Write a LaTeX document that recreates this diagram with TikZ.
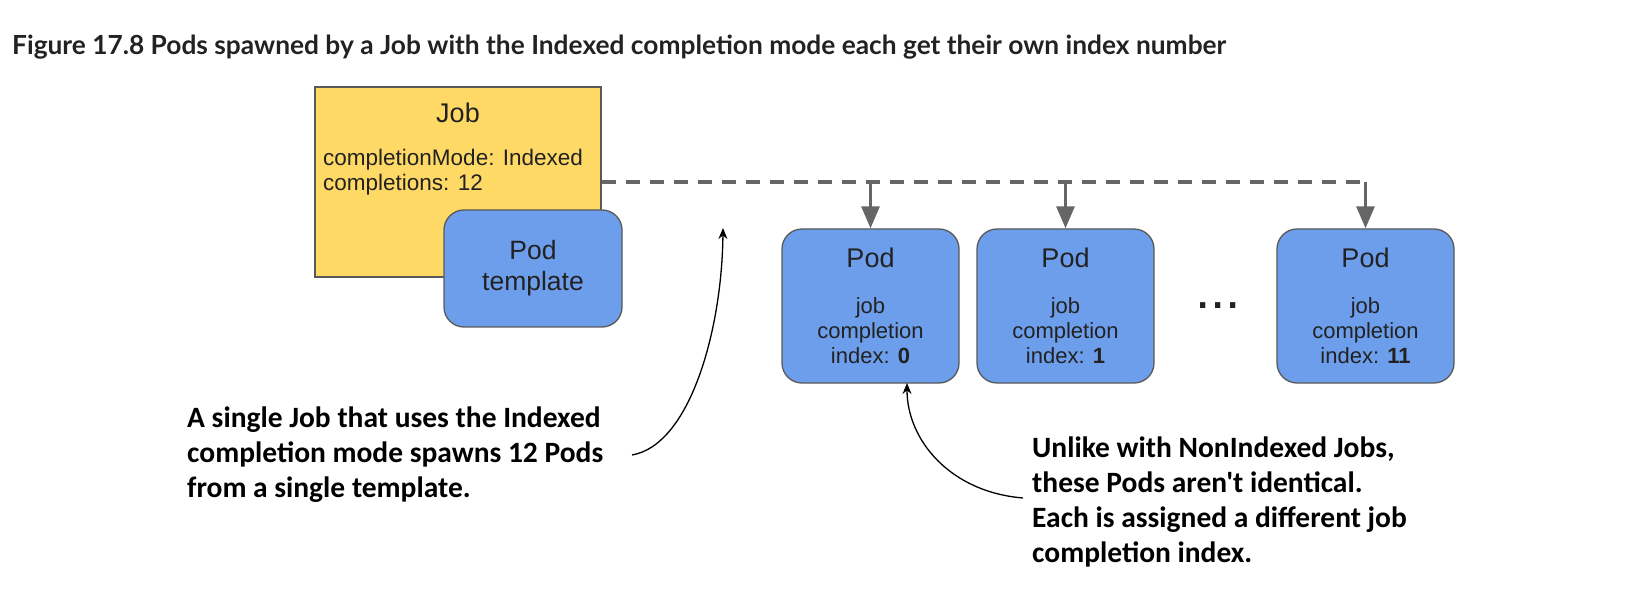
\documentclass[tikz,border=0pt]{standalone}
\usepackage{fontspec}
\setmainfont{Liberation Sans}
\newfontfamily\titlefont{Lato}
\newfontfamily\notefont{Carlito}
\usetikzlibrary{arrows.meta}
\definecolor{jobyellow}{HTML}{FFD966}
\definecolor{podblue}{HTML}{6D9EEB}
\definecolor{edgegray}{HTML}{595959}
\definecolor{linkgray}{HTML}{666666}
\definecolor{inkdark}{HTML}{222222}
\begin{document}
\begin{tikzpicture}[x=1pt,y=-1pt,
  jobbox/.style={draw=edgegray, fill=jobyellow, line width=1.3pt, minimum width=286pt, minimum height=190pt, inner sep=0pt},
  podbox/.style={draw=edgegray, fill=podblue, line width=1.3pt, rounded corners=20pt, minimum width=177pt, minimum height=154pt, inner sep=0pt, align=center, text=inkdark, font=\fontsize{22}{25}\selectfont},
  tmplbox/.style={podbox, minimum width=178pt, minimum height=117pt, font=\fontsize{26.5}{31}\selectfont},
  spawn/.style={draw=linkgray, line width=3.5pt, dash pattern=on 14pt off 10pt},
  spawnarrow/.style={draw=linkgray, line width=3pt, -{Triangle[width=18pt,length=22pt]}},
  note/.style={font=\notefont\bfseries\fontsize{29.5}{35}\selectfont, align=left, anchor=base west, inner sep=0pt, text=black},
  callout/.style={draw=black, line width=1.3pt, -{Stealth[width=9pt,length=11pt]}},
  plain/.style={inner sep=0pt, text=inkdark}
]
\useasboundingbox (0,0) rectangle (1635,609);

\node[plain, font=\titlefont\bfseries\fontsize{26.3}{30}\selectfont, anchor=base west] (title) at (12,55) {Figure 17.8 Pods spawned by a Job with the Indexed completion mode each get their own index number};

\node[jobbox] (job) at (458,182) {};
\node[plain, font=\fontsize{27}{30}\selectfont, anchor=base] (jobname) at (458,123) {Job};
\node[plain, font=\fontsize{22.5}{25}\selectfont, anchor=base west, align=left] (jobspec) at (323,191) {completionMode: Indexed\\completions: 12};
\node[tmplbox] (tmpl) at (533,268.5) {Pod\\template};

\node[podbox] (pod0) at (870.5,306) {{\fontsize{27}{25}\selectfont Pod}\\[21pt]job\\completion\\index: \textbf{0}};
\node[podbox] (pod1) at (1065.5,306) {{\fontsize{27}{25}\selectfont Pod}\\[21pt]job\\completion\\index: \textbf{1}};
\node[podbox] (pod11) at (1365.5,306) {{\fontsize{27}{25}\selectfont Pod}\\[21pt]job\\completion\\index: \textbf{11}};
\node[plain, font=\fontsize{55}{55}\selectfont, anchor=base] (dots) at (1218,309) {...};

\draw[spawn] (job.east) -- (job.east -| pod11.north);
\draw[spawnarrow] (job.east -| pod0.north) -- (pod0.north);
\draw[spawnarrow] (job.east -| pod1.north) -- (pod1.north);
\draw[spawnarrow] (job.east -| pod11.north) -- (pod11.north);

\node[note] (leftnote) at (187,497) {A single Job that uses the Indexed\\completion mode spawns 12 Pods\\from a single template.};
\node[note] (rightnote) at (1032,562) {Unlike with NonIndexed Jobs,\\these Pods aren't identical.\\Each is assigned a different job\\completion index.};

\coordinate (leftFrom) at (632,455);
\coordinate (upTip) at (723,228);
\coordinate (rightFrom) at (1023,498);
\coordinate (podTip) at (907,383);
\draw[callout] (leftFrom) .. controls (690,445) and (722,330) .. (upTip);
\draw[callout] (rightFrom) .. controls (950,492) and (907,440) .. (podTip);
\end{tikzpicture}
\end{document}
